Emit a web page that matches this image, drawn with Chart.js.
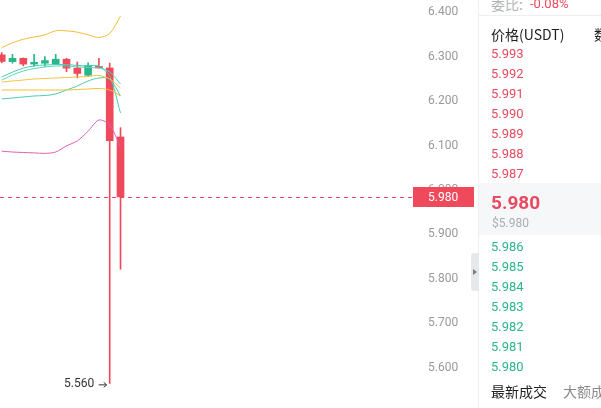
<!DOCTYPE html>
<html><head><meta charset="utf-8">
<script src="https://cdn.jsdelivr.net/npm/chart.js@4.4.0/dist/chart.umd.min.js"></script>
<style>
html,body{margin:0;padding:0;background:#fff;width:601px;height:408px;overflow:hidden;font-family:Roboto,"Noto Sans CJK SC",sans-serif;}
#wrap{position:absolute;left:0;top:0;width:478px;height:408px;}
#divv{position:absolute;left:478px;top:0;width:1px;height:408px;background:#eceef1;}
#divh{position:absolute;left:478px;top:15px;width:123px;height:1px;background:#eceef1;}
#band{position:absolute;left:479px;top:183px;width:122px;height:52px;background:#f6f7f9;}
#handle{position:absolute;left:471px;top:253px;width:8px;height:38px;background:#e6e8eb;border-radius:3px 0 0 3px;}
#handle:after{content:"";position:absolute;left:2px;top:16px;border-left:4px solid #7a7d83;border-top:3px solid transparent;border-bottom:3px solid transparent;}
.t{position:absolute;white-space:nowrap;line-height:20px;height:20px;font-size:13px;}
</style></head><body>
<div id="wrap"><canvas id="c" width="478" height="408"></canvas></div>
<div id="divv"></div><div id="divh"></div><div id="band"></div>
<div id="panel"></div>
<div id="handle"></div>
<script>
// ---- candle data (oldest -> newest) ----
const candleIdx = [0,1,2,3,4,5,6,7,8,9,10,11];
const opens  = [6.300, 6.2845, 6.292, 6.279, 6.281, 6.280, 6.290, 6.270, 6.254, 6.2725, 6.2703, 6.1149];
const highs  = [6.305, 6.301, 6.293, 6.301, 6.296, 6.301, 6.292, 6.284, 6.282, 6.292, 6.2815, 6.1358];
const lows   = [6.282, 6.281, 6.275, 6.274, 6.274, 6.278, 6.262, 6.248, 6.251, 6.2705, 5.560, 5.817];
const closes = [6.285, 6.292, 6.279, 6.283, 6.287, 6.290, 6.270, 6.258, 6.2755, 6.2705, 6.1065, 5.980];
// ---- indicator lines ----
const bandUpper = [6.316, 6.327, 6.335, 6.340, 6.345, 6.354, 6.354, 6.351, 6.345, 6.339, 6.348, 6.387];
const bandLower = [6.083, 6.081, 6.080, 6.079, 6.078, 6.081, 6.095, 6.106, 6.128, 6.153, 6.142, 6.092];
const maFast    = [6.250, 6.261, 6.270, 6.275, 6.277, 6.278, 6.278, 6.276, 6.275, 6.275, 6.252, 6.169];
const maMid     = [6.243, 6.2545, 6.2635, 6.269, 6.2725, 6.2748, 6.2748, 6.2725, 6.2714, 6.2703, 6.2613, 6.2342];
const maSlow    = [6.2005, 6.2027, 6.205, 6.2072, 6.2083, 6.2117, 6.2207, 6.2297, 6.241, 6.2477, 6.2455, 6.2072];
const emaA      = [6.2387, 6.241, 6.2432, 6.2455, 6.2466, 6.2477, 6.2489, 6.250, 6.2511, 6.2534, 6.2455, 6.2252];
const emaB      = [6.2207, 6.2207, 6.2207, 6.2207, 6.2207, 6.2207, 6.2207, 6.2218, 6.223, 6.2241, 6.2207, 6.2072];
// ---- axis / price info ----
const priceTicks = [5.6, 5.7, 5.8, 5.9, 6.0, 6.1, 6.2, 6.3, 6.4];
const lastPrice = 5.980;
const askPrices = ['5.993','5.992','5.991','5.990','5.989','5.988','5.987'];
const bidPrices = ['5.986','5.985','5.984','5.983','5.982','5.981','5.980'];
const ratioLabel = '委比:';
const ratioValue = '-0.08%';

const RED = '#ee4a5b', GREEN = '#2bb58b';
const candleColors = opens.map((o,i)=> closes[i] >= o ? GREEN : RED);
const pts = arr => arr.map((v,i)=>({x:candleIdx[i], y:v}));
const line = (arr,color,label) => ({type:'line',label,data:pts(arr),borderColor:color,borderWidth:1,pointRadius:0,tension:0.3,order:0,fill:false});

const overlay = {
  id:'overlay',
  afterDatasetsDraw(chart){
    const {ctx, chartArea, scales:{x,y}} = chart;
    ctx.save();
    // last price dashed line
    const py = Math.round(y.getPixelForValue(lastPrice)) + 0.5;
    ctx.strokeStyle = '#f0436c'; ctx.lineWidth = 1.2; ctx.setLineDash([4,4]);
    ctx.beginPath(); ctx.moveTo(0,py); ctx.lineTo(chartArea.right+3,py); ctx.stroke();
    ctx.setLineDash([]);
    // low annotation
    let mi = 0; lows.forEach((l,i)=>{ if(l<lows[mi]) mi=i; });
    const lx = x.getPixelForValue(candleIdx[mi]), ly = y.getPixelForValue(lows[mi]);
    ctx.fillStyle = '#333'; ctx.font = '12px Roboto, sans-serif';
    ctx.textAlign = 'right'; ctx.textBaseline = 'middle';
    ctx.fillText(lows[mi].toFixed(3), lx-15.5, ly+1);
    ctx.strokeStyle = '#333'; ctx.lineWidth = 1;
    ctx.beginPath(); ctx.moveTo(lx-11, ly+1.5); ctx.lineTo(lx-3.5, ly+1.5); ctx.stroke();
    ctx.beginPath(); ctx.moveTo(lx-6, ly-1); ctx.lineTo(lx-3, ly+1.5); ctx.lineTo(lx-6, ly+4); ctx.stroke();
    ctx.restore();
  },
  afterDraw(chart){
    const {ctx, chartArea, scales:{y}} = chart;
    ctx.save();
    const py = y.getPixelForValue(lastPrice);
    ctx.fillStyle = RED;
    ctx.fillRect(chartArea.right+3, Math.round(py)-10, 61, 20);
    ctx.fillStyle = '#fff'; ctx.font = '12px Roboto, sans-serif';
    ctx.textAlign = 'left'; ctx.textBaseline = 'middle';
    ctx.fillText(lastPrice.toFixed(3), chartArea.right+18, py+1);
    ctx.restore();
  }
};

new Chart(document.getElementById('c'), {
  type:'bar',
  data:{datasets:[
    line(bandUpper,'#f2bd3a','upper'),
    line(emaA,'#f4c440','emaA'),
    line(emaB,'#f2be35','emaB'),
    line(maFast,'#45cdb0','maFast'),
    line(maMid,'#5bd3b8','maMid'),
    line(maSlow,'#4cc9ad','maSlow'),
    line(bandLower,'#e25cb8','lower'),
    {type:'bar',label:'wick',data:lows.map((l,i)=>({x:candleIdx[i],y:[l,highs[i]]})),backgroundColor:candleColors,barThickness:1,grouped:false,order:2},
    {type:'bar',label:'body',data:opens.map((o,i)=>({x:candleIdx[i],y:[o,closes[i]]})),backgroundColor:candleColors,barThickness:7,minBarLength:1.5,grouped:false,order:1}
  ]},
  options:{
    responsive:false, animation:false,
    layout:{padding:0},
    plugins:{legend:{display:false},tooltip:{enabled:false}},
    scales:{
      x:{type:'linear',min:-0.157,max:37.8,display:false,offset:false},
      y:{position:'right',min:5.5045,max:6.4234,
         grid:{display:false,drawTicks:false},border:{display:false},
         afterBuildTicks:s=>{ s.ticks = priceTicks.map(v=>({value:v})); },
         afterFit:s=>{ s.width = 68; s.paddingTop=0; s.paddingBottom=0; },
         ticks:{padding:18,labelOffset:2,color:'#999',font:{family:'Roboto',size:12},callback:v=>Number(v).toFixed(3)}}
    }
  },
  plugins:[overlay]
});

// ---- order book panel ----
const panel = document.getElementById('panel');
function add(text, left, top, style){
  const d = document.createElement('div'); d.className='t'; d.textContent=text;
  d.style.left=left+'px'; d.style.top=top+'px'; Object.assign(d.style, style||{}); panel.appendChild(d);
}
add(ratioLabel, 491, -6.5, {color:'#b5b5b5',fontSize:'14px',fontFamily:'"Noto Sans CJK SC",sans-serif'});
add(ratioValue, 530, -6.5, {color:RED});
add('价格(USDT)', 491, 23.5, {color:'#222',fontSize:'14px',fontFamily:'"Noto Sans CJK SC",sans-serif'});
add('数量', 594, 23.5, {color:'#222',fontSize:'14px',fontFamily:'"Noto Sans CJK SC",sans-serif'});
askPrices.forEach((p,k)=> add(p, 491, 44.3+20*k, {color:'#e84a5f'}));
add(lastPrice.toFixed(3), 491, 191, {color:'#e84a5f',fontSize:'19px',fontWeight:'bold',lineHeight:'24px',height:'24px'});
add('$'+lastPrice.toFixed(3), 492, 212.5, {color:'#adadad',fontSize:'12px'});
bidPrices.forEach((p,k)=> add(p, 491, 236.7+20*k, {color:'#2bb58b'}));
add('最新成交', 491, 380.7, {color:'#222',fontSize:'14px',fontFamily:'"Noto Sans CJK SC",sans-serif'});
add('大额成交', 563, 380.7, {color:'#8a8a8a',fontSize:'14px',fontFamily:'"Noto Sans CJK SC",sans-serif'});
</script>
</body></html>
